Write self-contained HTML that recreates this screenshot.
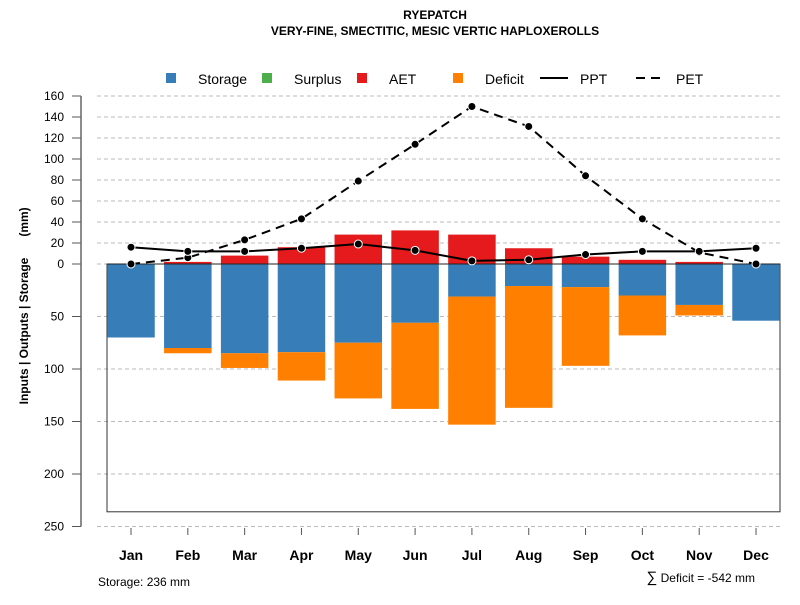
<!DOCTYPE html>
<html><head><meta charset="utf-8"><style>
body{margin:0;background:#fff}
svg{font-family:"Liberation Sans",sans-serif}
</style></head><body>
<svg id="c" width="800" height="600" xmlns="http://www.w3.org/2000/svg">
<text x="435" y="19" text-anchor="middle" font-size="12" font-weight="bold">RYEPATCH</text>
<text x="435" y="35" text-anchor="middle" font-size="12" font-weight="bold">VERY-FINE, SMECTITIC, MESIC VERTIC HAPLOXEROLLS</text>
<g font-size="14">
<rect x="166" y="73" width="10" height="10" fill="#377eb8"/>
<text x="198" y="84">Storage</text>
<rect x="262" y="73" width="10" height="10" fill="#4daf4a"/>
<text x="294" y="84">Surplus</text>
<rect x="357" y="73" width="10" height="10" fill="#e41a1c"/>
<text x="389" y="84">AET</text>
<rect x="453" y="73" width="10" height="10" fill="#ff7f00"/>
<text x="485" y="84">Deficit</text>
<line x1="540" y1="78" x2="568" y2="78" stroke="#000" stroke-width="2"/>
<text x="580" y="84">PPT</text>
<line x1="636" y1="78" x2="664" y2="78" stroke="#000" stroke-width="2" stroke-dasharray="9,6"/>
<text x="676" y="84">PET</text>
</g>
<text transform="translate(28,331) rotate(-90)" text-anchor="middle" font-size="12" font-weight="bold">Inputs | Outputs | Storage</text>
<text transform="translate(28,222) rotate(-90)" text-anchor="middle" font-size="12" font-weight="bold">(mm)</text>
<g id="plot"></g>
<text x="98" y="586" font-size="12">Storage: 236 mm</text>
<text x="755" y="582" text-anchor="end" font-size="12"><tspan font-size="15">∑</tspan> Deficit = -542 mm</text>
</svg>
<script>
const months=["Jan","Feb","Mar","Apr","May","Jun","Jul","Aug","Sep","Oct","Nov","Dec"];
const storage=[70,80,85,84,75,56,31,21,22,30,39,54];
const deficit=[0,5,14,27,53,82,122,116,75,38,10,0];
const aet=[0,2,8,16,28,32,28,15,7,4,2,0];
const ppt=[16,12,12,15,19,13,3,4,9,12,12,15];
const pet=[0,6,23,43,79,114,150,131,84,43,11,0];
const yTicks=[160,140,120,100,80,60,40,20,0,50,100,150,200,250];
const capacity=236;
const NS="http://www.w3.org/2000/svg";
const g=document.getElementById("plot");
const y0=264,k=1.05;
const yUp=v=>y0-v*k, yDn=v=>y0+v*k;
const xC=i=>131+i*56.82;
const bw=47.5;
function el(t,a){const e=document.createElementNS(NS,t);for(const n in a)e.setAttribute(n,a[n]);g.appendChild(e);return e;}
yTicks.forEach((v,i)=>{const y=i<9?yUp(v):yDn(v);
 const l=el("line",{x1:97,x2:780,y1:y,y2:y,stroke:"#bbb","stroke-dasharray":"4,3"});
 
 const t=el("line",{x1:72,x2:81,y1:y,y2:y,stroke:"#555"});
 
 const tx=el("text",{x:64,y:y+4,"text-anchor":"end","font-size":12});tx.textContent=v;
 
});
const ax=el("line",{x1:81,x2:81,y1:yUp(160),y2:yDn(250),stroke:"#666","stroke-width":1.5});

const box=el("rect",{x:107,y:y0,width:673,height:capacity*k,fill:"none",stroke:"#333"});

months.forEach((m,i)=>{const x=xC(i)-bw/2;
 if(aet[i]>0){const r=el("rect",{x:x,y:yUp(aet[i]),width:bw,height:aet[i]*k,fill:"#e41a1c"});
  }
 const s=el("rect",{x:x,y:y0,width:bw,height:storage[i]*k,fill:"#377eb8"});
 
 if(deficit[i]>0){const d=el("rect",{x:x,y:yDn(storage[i]),width:bw,height:deficit[i]*k,fill:"#ff7f00"});
  }
 const t=el("line",{x1:xC(i),x2:xC(i),y1:528,y2:535,stroke:"#555"});
 
 const tx=el("text",{x:xC(i),y:560,"text-anchor":"middle","font-size":14,"font-weight":"bold"});tx.textContent=m;
 
});
const zl=el("line",{x1:107,x2:780,y1:y0,y2:y0,stroke:"#222"});

function series(arr,name,dash){
 const p=el("polyline",{points:arr.map((v,i)=>xC(i)+","+yUp(v)).join(" "),fill:"none",stroke:"#000","stroke-width":2,"stroke-dasharray":dash});
 
 arr.forEach((v,i)=>{const c=el("circle",{cx:xC(i),cy:yUp(v),r:4,fill:"#000",stroke:"#fff","stroke-width":1});
  });
}
series(pet,"pet","9,6");
series(ppt,"ppt","none");
</script>
</body></html>
